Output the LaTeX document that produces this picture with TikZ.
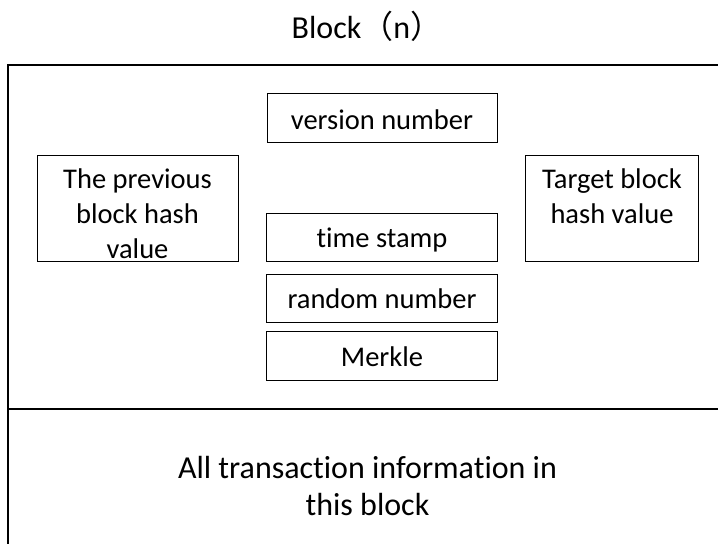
\documentclass[tikz,border=0pt]{standalone}
\usepackage{fontspec}
\setmainfont[Ligatures=NoCommon]{Carlito}
\newfontfamily\cjkfont{Noto Sans CJK SC}
\begin{document}
\begin{tikzpicture}[x=1pt,y=-1pt,
  field/.style={draw, line width=1.2pt, inner sep=0pt, anchor=north west},
  caption/.style={font=\fontsize{28.5}{35}\selectfont, align=center, inner sep=0pt, anchor=base},
  bigcaption/.style={caption, font=\fontsize{32}{37}\selectfont}]
  \useasboundingbox (0,0) rectangle (718,544);
  % title
  \node[bigcaption] (title) at (367,38.3) {Block{\cjkfont （}n{\cjkfont ）}};
  % outer block frame and the header/body divider
  \coordinate (tl) at (8,65);
  \coordinate (tr) at (718,65);
  \coordinate (bl) at (8,544);
  \coordinate (dl) at (8,409);
  \coordinate (dr) at (718,409);
  \draw[line width=1.3pt] (tr) -- (tl) -- (bl);
  \draw[line width=1.3pt] (dl) -- (dr);
  % header fields (multi-line captions are placed by their last baseline)
  \node[field, minimum width=230pt, minimum height=49pt] (ver) at (267,93) {};
  \node[caption] (vertxt) at (382,129) {version number};
  \node[field, minimum width=201pt, minimum height=106pt] (prev) at (37,155) {};
  \node[caption] (prevtxt) at (137.5,258.3) {The previous\\block hash\\value};
  \node[field, minimum width=173pt, minimum height=106pt] (target) at (525,155) {};
  \node[caption] (targettxt) at (612,223.3) {Target block\\hash value};
  \node[field, minimum width=231pt, minimum height=48pt] (time) at (266,213) {};
  \node[caption] (timetxt) at (382,247) {time stamp};
  \node[field, minimum width=231pt, minimum height=48pt] (nonce) at (266,274) {};
  \node[caption] (noncetxt) at (382,308) {random number};
  \node[field, minimum width=231pt, minimum height=49pt] (merkle) at (266,331) {};
  \node[caption] (merkletxt) at (382,366) {Merkle};
  % block body
  \node[bigcaption] (body) at (367.5,515) {All transaction information in\\this block};
\end{tikzpicture}
\end{document}
